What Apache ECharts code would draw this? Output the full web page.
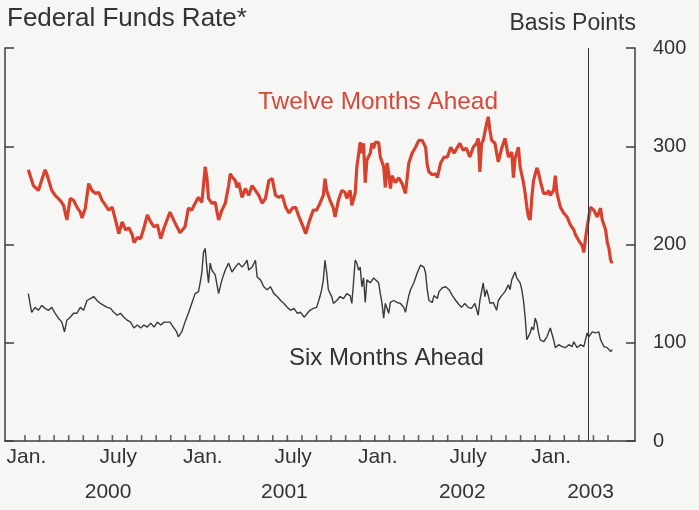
<!DOCTYPE html>
<html>
<head>
<meta charset="utf-8">
<title>Federal Funds Rate</title>
<script src="https://cdn.jsdelivr.net/npm/echarts@6/dist/echarts.min.js"></script>
<style>
  html, body { margin: 0; padding: 0; background: #f6f6f4; }
  #chart { width: 699px; height: 510px; }
</style>
</head>
<body>
<div id="chart"></div>
<script>
// Expected federal funds rate, basis points.
// Each point is [weeks since 1 Jan 2000, basis points].
const twelveMonthsAhead = [
  [1.0,276],[2.5,260],[4.0,255],[6.0,276],[6.5,272],[8.0,255],[9.0,250],[10.5,245],[11.5,240],[12.5,225],
  [13.5,247],[14.5,245],[15.5,238],[16.5,233],[17.0,227],[18.0,237],[19.0,262],[20.0,255],[21.0,252],[22.0,253],
  [23.0,245],[24.0,240],[25.0,235],[26.0,238],[27.0,225],[28.0,211],[29.0,223],[30.0,215],[31.0,217],[32.0,210],
  [32.5,202],[33.5,207],[34.5,206],[35.5,217],[36.5,230],[37.5,223],[38.5,218],[39.5,220],[40.5,206],[41.5,217],
  [43.25,233],[44.75,222],[46.25,212],[47.75,218],[48.75,237],[49.75,235],[50.75,242],[51.75,248],[52.75,243],[53.25,260],
  [53.75,279],[54.25,269],[54.75,247],[55.75,242],[56.75,243],[57.75,225],[58.75,235],[59.75,242],[60.75,260],[61.25,272],
  [61.75,269],[62.75,265],[63.25,258],[63.75,263],[64.75,248],[65.75,257],[66.75,250],[67.75,260],[68.75,255],[69.75,250],
  [70.75,242],[71.75,247],[72.75,265],[73.75,267],[74.75,250],[75.75,248],[76.75,250],[77.75,238],[78.75,232],[79.75,237],
  [80.75,238],[81.75,228],[82.75,220],[83.75,211],[84.75,223],[86,235],[87,235],[88,242],[89,250],[89.5,267],
  [90,255],[91,245],[92,237],[92.5,228],[93.5,245],[94.5,255],[95.5,253],[96,247],[97,255],[97.5,240],
  [98.5,252],[99,279],[100,304],[100.5,293],[101,303],[101.5,263],[102,286],[103,293],[103.5,303],[104,298],
  [104.5,304],[105.5,304],[106,289],[107,279],[107.5,258],[108,283],[108.5,273],[109,257],[109.5,270],[110.5,263],
  [111.5,268],[112.5,262],[113.5,252],[114.5,283],[115.5,293],[116.5,299],[117.5,306],[118.5,306],[119.5,299],[120,281],
  [120.5,274],[121.5,271],[122.5,272],[123,268],[124,283],[125,289],[126,289],[127,299],[128,293],[129.7,303],
  [130.7,296],[131.7,298],[132.7,289],[133.7,299],[134.7,303],[135.2,308],[135.7,274],[136.2,303],[136.7,306],[137.7,323],
  [138.2,330],[138.7,316],[139.2,306],[140.2,303],[140.7,293],[141.2,284],[142.2,298],[142.7,303],[143.2,308],[143.7,299],
  [144.2,289],[145.2,294],[145.7,268],[146.2,288],[147.2,299],[147.7,279],[148.7,263],[149.2,252],[149.7,238],[150.2,228],
  [150.7,225],[151.2,248],[151.7,265],[152.7,278],[153.2,273],[153.7,265],[154.7,252],[155.7,252],[156.2,255],[156.7,250],
  [157.7,255],[158.2,270],[158.7,252],[159.7,238],[160.7,232],[161.7,228],[162.7,220],[163.7,215],[164.2,210],[165.2,204],
  [166.2,199],[166.7,192],[167.2,206],[167.7,218],[168.7,238],[169.7,235],[170.7,228],[171.7,237],[172.2,225],[173.2,215],
  [173.7,202],[174.2,196],[174.7,184],[175.2,181]
];

const sixMonthsAhead = [
  [1.0,150],[1.5,140],[2.0,131],[3.0,136],[4.0,133],[5.0,138],[6.0,135],[7.0,133],[8.0,136],[9.0,130],
  [10.0,125],[11.0,121],[11.8,111],[12.5,123],[13.5,126],[14.5,130],[15.5,130],[16.5,136],[17.5,133],[18.5,143],
  [19.5,145],[20.5,147],[21.5,143],[22.5,140],[23.5,138],[24.5,136],[25.5,135],[26.5,131],[27.5,128],[28.5,130],
  [29.5,126],[30.5,123],[31.5,121],[32.5,115],[33.5,118],[34.5,115],[35.5,118],[36.5,116],[37.5,120],[38.5,116],
  [39.5,121],[40.5,118],[41.5,121],[43.25,121],[44.25,116],[45.25,111],[45.75,106],[46.75,111],[47.75,121],[48.75,130],
  [49.75,140],[50.75,150],[51.75,152],[52.25,161],[52.75,171],[53.25,192],[53.75,196],[54.25,177],[54.75,161],[55.25,181],
  [55.75,174],[56.75,169],[57.75,150],[58.75,164],[59.75,174],[60.75,181],[61.75,172],[62.75,177],[63.75,181],[64.75,177],
  [65.75,181],[66.25,184],[66.75,174],[67.75,177],[68.75,184],[69.25,167],[70.25,164],[71.25,157],[72.25,154],[73.25,157],
  [74.25,150],[75.25,147],[76.25,143],[77.25,140],[78.25,136],[79.25,133],[80.25,135],[81.25,130],[82.25,131],[83.25,126],
  [84.25,130],[85,133],[86,135],[87,136],[88,147],[88.5,154],[89,164],[89.5,184],[90,171],[90.5,154],
  [91.5,147],[92,140],[93,143],[94,147],[95,145],[96,150],[97,148],[97.5,140],[98,161],[98.5,184],
  [99,181],[99.5,174],[100,177],[100.5,157],[101,166],[101.5,141],[102,164],[103,161],[104,166],[104.5,167],
  [105.5,161],[106,150],[106.5,140],[107,125],[107.5,140],[108.5,130],[109,141],[110,143],[111,141],[112,140],
  [113,136],[113.5,131],[114,140],[114.5,148],[115,154],[116,161],[117,171],[118,179],[119,177],[119.5,171],
  [120,154],[120.5,143],[121.5,141],[122,148],[123,145],[123.5,152],[124.5,156],[125.5,157],[126.5,154],[127.5,148],
  [128.5,143],[129.2,140],[130.2,136],[131.2,140],[132.2,136],[133.2,135],[134.2,140],[135.2,128],[135.7,143],[136.2,152],
  [136.7,161],[137.2,147],[137.7,154],[138.2,148],[138.7,140],[139.7,141],[140.7,133],[141.2,143],[142.2,148],[143.2,152],
  [144.2,159],[144.7,154],[145.2,164],[146.2,172],[146.7,166],[147.2,167],[147.7,161],[148.2,154],[148.7,143],[149.2,126],
  [149.7,103],[150.2,101],[150.7,110],[151.2,116],[151.7,113],[152.2,125],[152.7,120],[153.2,110],[153.7,103],[154.7,101],
  [155.7,106],[156.7,115],[157.2,113],[157.7,103],[158.2,95],[159.2,98],[160.2,96],[161.2,95],[162.2,98],[163.2,96],
  [163.7,101],[164.7,95],[165.7,98],[166.7,96],[167.2,103],[167.7,110],[168.2,106],[169.2,111],[170.2,110],[171.2,111],
  [171.7,103],[172.7,96],[173.7,95],[174.7,91],[175.2,93]
];

// Axis layout in months since January 2000
const axisStartMonth = -1.37;
const axisEndMonth = 41.85;
const monthTicks = Array.from({ length: 41 }, (_, i) => i);        // Jan 2000 .. May 2003
const monthLabels = [
  { at: 0.1, text: 'Jan.' }, { at: 6.4, text: 'July' },
  { at: 12.2, text: 'Jan.' }, { at: 18.4, text: 'July' },
  { at: 24.2, text: 'Jan.' }, { at: 30.4, text: 'July' },
  { at: 36.1, text: 'Jan.' }
];
const yearLabels = [
  { at: 5.7, text: '2000' }, { at: 17.8, text: '2001' },
  { at: 30.0, text: '2002' }, { at: 38.8, text: '2003' }
];
const markerMonth = 38.63;   // mid-March 2003

const weeksToMonths = w => w * 7 / 30.437;
const toPoints = arr => arr.map(([w, v]) => [weeksToMonths(w), v]);

const FONT = "'Liberation Sans', Arial, Helvetica, sans-serif";
const TEXT = '#333333';
const AXIS = '#3c3c3c';
const RED = '#d9412f';

const labelAt = (list) => {
  const map = {};
  list.forEach(d => { map[d.at.toFixed(2)] = d.text; });
  return v => map[Number(v).toFixed(2)] || '';
};

const chart = echarts.init(document.getElementById('chart'), null, { renderer: 'canvas' });

chart.setOption({
  animation: false,
  backgroundColor: '#f6f6f4',
  grid: { left: 5, right: 64, top: 48, bottom: 69, containLabel: false },
  xAxis: [
    {
      type: 'value',
      min: axisStartMonth,
      max: axisEndMonth,
      position: 'bottom',
      axisLine: { show: true, onZero: false, lineStyle: { color: AXIS, width: 1.5 } },
      axisTick: { show: false },
      axisLabel: {
        show: true, customValues: monthLabels.map(d => d.at), formatter: labelAt(monthLabels),
        margin: 6, fontSize: 21, color: TEXT, fontFamily: FONT
      },
      splitLine: { show: false }
    },
    {
      type: 'value',
      min: axisStartMonth,
      max: axisEndMonth,
      position: 'bottom',
      axisLine: { show: false, onZero: false },
      axisTick: { show: false },
      axisLabel: {
        show: true, customValues: yearLabels.map(d => d.at), formatter: labelAt(yearLabels),
        margin: 41, fontSize: 21, color: TEXT, fontFamily: FONT
      },
      splitLine: { show: false }
    }
  ],
  yAxis: [
    {
      type: 'value', min: 0, max: 400, interval: 100, position: 'right',
      axisLine: { show: true, onZero: false, lineStyle: { color: AXIS, width: 1.5 } },
      axisTick: { show: true, inside: true, length: 9, lineStyle: { color: AXIS, width: 1.5 } },
      axisLabel: { show: true, margin: 18, fontSize: 20, color: TEXT, fontFamily: FONT },
      splitLine: { show: false }
    },
    {
      type: 'value', min: 0, max: 400, interval: 100, position: 'left',
      axisLine: { show: true, onZero: false, lineStyle: { color: AXIS, width: 1.5 } },
      axisTick: { show: true, inside: true, length: 9, lineStyle: { color: AXIS, width: 1.5 } },
      axisLabel: { show: false },
      splitLine: { show: false }
    }
  ],
  series: [
    {
      // monthly tick marks standing on the time axis
      name: 'monthTicks',
      type: 'scatter',
      data: monthTicks.map(m => [m, 0]),
      symbol: 'rect',
      symbolSize: [1.6, 6],
      symbolOffset: [0, -3],
      itemStyle: { color: AXIS },
      silent: true,
      clip: false,
      z: 5
    },
    {
      name: 'Six Months Ahead',
      type: 'line',
      data: toPoints(sixMonthsAhead),
      showSymbol: false,
      lineStyle: { color: '#3a3a3a', width: 1.4 },
      z: 3
    },
    {
      name: 'Twelve Months Ahead',
      type: 'line',
      data: toPoints(twelveMonthsAhead),
      showSymbol: false,
      lineStyle: { color: RED, width: 3.2 },
      z: 4,
      markLine: {
        silent: true,
        symbol: ['none', 'none'],
        label: { show: false },
        lineStyle: { color: '#333', width: 1, type: 'solid' },
        data: [{ xAxis: markerMonth }]
      }
    }
  ],
  graphic: [
    { type: 'text', left: 7, top: 6, style: { text: 'Federal Funds Rate*', fontSize: 26, fill: TEXT, fontFamily: FONT } },
    { type: 'text', right: 63, top: 12, style: { text: 'Basis Points', fontSize: 23, fill: TEXT, fontFamily: FONT } },
    { type: 'text', left: 258, top: 90, style: { text: 'Twelve Months Ahead', fontSize: 24.4, fill: '#d4493a', fontFamily: FONT } },
    { type: 'text', left: 289, top: 346, style: { text: 'Six Months Ahead', fontSize: 24, fill: TEXT, fontFamily: FONT } }
  ]
});
</script>
</body>
</html>
